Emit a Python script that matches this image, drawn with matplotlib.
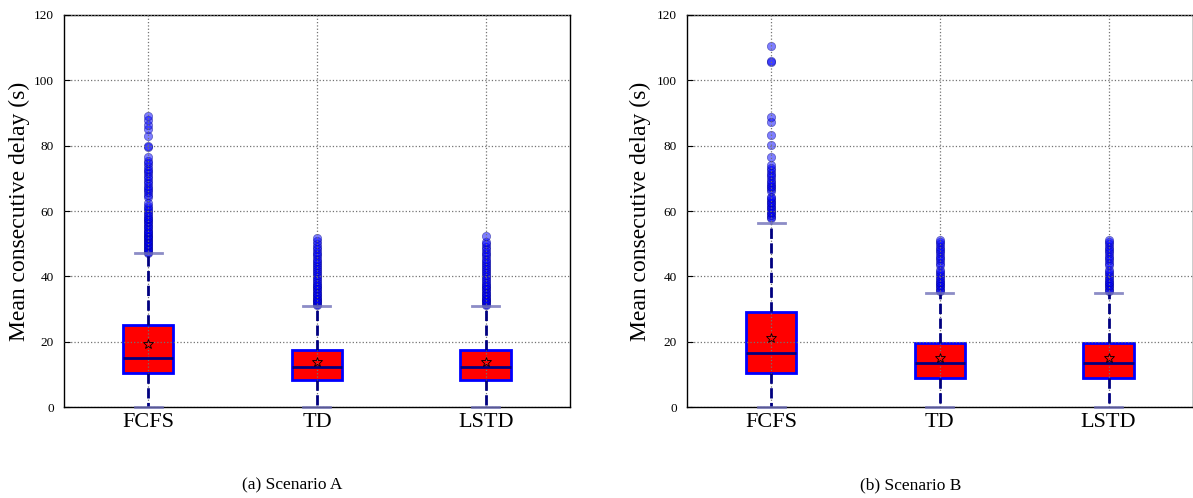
import matplotlib.pyplot as plt

# box statistics (seconds)
labels = ["FCFS", "TD", "LSTD"]

# Scenario A
a_q1 = [10.4, 8.3, 8.3]
a_med = [15.0, 12.2, 12.2]
a_q3 = [25.1, 17.4, 17.4]
a_mean = [19.3, 13.8, 13.8]
a_lo = [0.0, 0.0, 0.0]
a_hi = [47.0, 31.0, 31.0]
a_fliers = [
    [47.2, 47.6, 48.0, 48.4, 48.8, 49.2, 49.6, 50.0, 50.4, 50.8, 51.2, 51.6, 52.0,
     52.4, 52.8, 53.2, 53.6, 54.0, 54.5, 55.0, 55.5, 56.0, 56.5, 57.0, 57.5, 58.0,
     58.6, 59.2, 59.8, 60.4, 61.0, 61.6, 62.3, 64.4, 65.0, 65.7, 66.4, 67.0, 67.8,
     68.5, 69.2, 70.0, 70.8, 71.5, 72.3, 73.0, 73.8, 74.6, 75.4, 76.6, 79.5, 79.9,
     82.9, 85.0, 86.3, 87.8, 89.1],
    [31.2, 31.6, 32.0, 32.4, 32.8, 33.2, 33.6, 34.0, 34.5, 35.0, 35.5, 36.0, 36.5,
     37.0, 37.5, 38.0, 38.6, 39.2, 39.8, 40.4, 41.0, 41.6, 42.2, 42.8, 43.4, 44.0,
     44.7, 45.4, 46.1, 46.8, 47.5, 48.3, 49.1, 50.0, 50.8, 51.8],
    [31.2, 31.6, 32.0, 32.4, 32.8, 33.2, 33.6, 34.0, 34.5, 35.0, 35.5, 36.0, 36.5,
     37.0, 37.5, 38.0, 38.6, 39.2, 39.8, 40.4, 41.0, 41.6, 42.2, 42.8, 43.4, 44.0,
     44.7, 45.4, 46.1, 46.8, 47.5, 48.3, 49.0, 49.8, 50.6, 52.2],
]

# Scenario B
b_q1 = [10.3, 9.0, 9.0]
b_med = [16.5, 13.6, 13.6]
b_q3 = [29.0, 19.5, 19.5]
b_mean = [21.0, 15.1, 15.1]
b_lo = [0.0, 0.0, 0.0]
b_hi = [56.3, 35.0, 35.0]
b_fliers = [
    [57.8, 58.3, 58.8, 59.3, 59.8, 60.3, 60.8, 61.3, 61.8, 62.3, 62.8, 63.4, 64.0,
     64.4, 66.0, 66.6, 67.2, 67.8, 68.4, 69.0, 69.6, 70.3, 71.0, 71.7, 72.4, 73.2,
     74.0, 76.6, 80.2, 83.3, 87.3, 88.9, 105.5, 106.0, 110.6],
    [35.4, 35.9, 36.4, 36.9, 37.4, 37.9, 38.4, 38.9, 39.4, 40.0, 40.6, 41.2, 41.8,
     43.5, 44.2, 44.9, 45.6, 46.3, 47.0, 47.7, 48.4, 49.1, 49.8, 50.4, 51.1],
    [35.4, 35.9, 36.4, 36.9, 37.4, 37.9, 38.4, 38.9, 39.4, 40.0, 40.6, 41.2, 41.8,
     43.5, 44.2, 44.9, 45.6, 46.3, 47.0, 47.7, 48.4, 49.1, 49.8, 50.4, 51.1],
]

captions = ["(a) Scenario A", "(b) Scenario B"]

plt.rcParams['font.family'] = ['Liberation Serif', 'DejaVu Serif']


def make_stats(q1, med, q3, mean, lo, hi, fliers):
    stats = []
    for i in range(len(labels)):
        stats.append(dict(label=labels[i], q1=q1[i], med=med[i], q3=q3[i],
                          mean=mean[i], whislo=lo[i], whishi=hi[i],
                          fliers=fliers[i]))
    return stats


fig = plt.figure(figsize=(11.93, 4.98), dpi=100)
ax1 = fig.add_axes([0.0533, 0.1827, 0.4247, 0.7872])
ax2 = fig.add_axes([0.5756, 0.1827, 0.4244, 0.7872])

all_stats = [make_stats(a_q1, a_med, a_q3, a_mean, a_lo, a_hi, a_fliers),
             make_stats(b_q1, b_med, b_q3, b_mean, b_lo, b_hi, b_fliers)]

for ax, stats, cap, xc in zip([ax1, ax2], all_stats, captions, [0.245, 0.763]):
    parts = ax.bxp(stats, widths=0.3, patch_artist=True, showmeans=True,
                   boxprops=dict(facecolor='red', edgecolor='blue', linewidth=2),
                   medianprops=dict(color='navy', linewidth=2),
                   whiskerprops=dict(color='navy', linestyle='--', linewidth=2),
                   capprops=dict(color='#6f6fb8', linewidth=2, alpha=0.8),
                   capwidths=0.16,
                   flierprops=dict(marker='o', markerfacecolor='blue',
                                   markeredgecolor='navy', markeredgewidth=0.5,
                                   markersize=6, alpha=0.5, linestyle='none'),
                   meanprops=dict(marker='*', markerfacecolor='none',
                                  markeredgecolor='k', markeredgewidth=0.6,
                                  markersize=7))
    for c in parts['caps']:
        c.set_clip_on(False)
        c.set_zorder(3)
    for w in parts['whiskers'] + parts['medians']:
        w.set_zorder(3)
    for m in parts['means']:
        m.set_zorder(3.5)
    ax.set_xlim(0.5, 3.5)
    ax.set_ylim(0, 120)
    ax.set_yticks(range(0, 121, 20))
    ax.set_axisbelow(False)
    ax.grid(True, color='0.45', linestyle=':', linewidth=0.9)
    ax.tick_params(axis='y', labelsize=9.5, direction='in', length=4, pad=7)
    ax.tick_params(axis='x', labelsize=16, direction='in', length=0, pad=4)
    ax.set_ylabel("Mean consecutive delay (s)", fontsize=17)
    for s in ax.spines.values():
        s.set_linewidth(1.0)
    fig.text(xc, 0.026, cap, ha='center', va='center', fontsize=12.5)

ax1.yaxis.set_label_coords(-0.066, 0.5)
ax2.yaxis.set_label_coords(-0.070, 0.5)

fig.savefig("out.png", dpi=100)
